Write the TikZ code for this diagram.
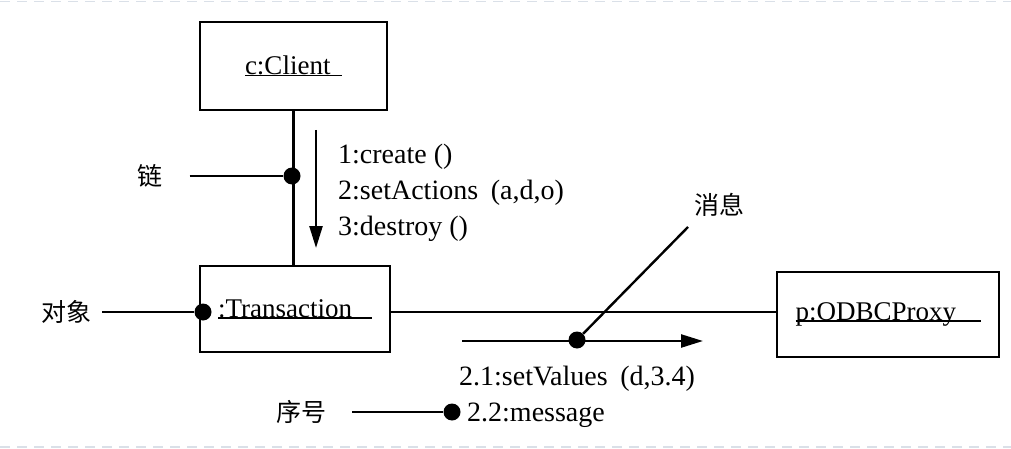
\documentclass[tikz,border=0pt]{standalone}
\usepackage{fontspec}
\setmainfont{Liberation Serif}
\newfontfamily\cjk{Noto Sans CJK SC}
\usetikzlibrary{arrows.meta}
\definecolor{dashc}{RGB}{218,224,232}
\newcommand\myul[2]{\makebox[#2][l]{#1}\llap{\rule[-1.5pt]{#2}{1.6pt}}}
\begin{document}
\begin{tikzpicture}[x=1pt,y=-1pt,
  obj/.style={draw, line width=2.6pt, inner sep=0pt, font=\fontsize{27}{30}\selectfont},
  lnk/.style={line width=2.4pt},
  msg/.style={font=\fontsize{28}{32}\selectfont, inner sep=0pt, anchor=base west},
  cn/.style={font=\cjk\fontsize{25}{28}\selectfont, inner sep=0pt},
  dotc/.style={circle, fill, inner sep=0pt, minimum size=17pt},
  arr/.style={line width=2.4pt, -{Triangle[length=22pt,width=13pt]}},
  frame/.style={draw=dashc, line width=1.6pt, dash pattern=on 10pt off 7pt}
]
\useasboundingbox (0,0) rectangle (1011,449);
\draw[frame] (0,1.5) -- (1011,1.5);
\draw[frame] (0,447) -- (1011,447);

% objects
\node[obj, minimum width=187pt, minimum height=88pt] (client) at (293.5,66)
  {\raisebox{-3pt}{\myul{c:Client}{97pt}}};
\node[obj, minimum width=190pt, minimum height=86pt] (trans) at (295,309)
  {\raisebox{-3pt}{\myul{:Transaction}{154pt}}};
\node[obj, minimum width=222pt, minimum height=85pt] (odbc) at (888,314.5)
  {\raisebox{-1pt}{\myul{p:ODBCProxy}{185pt}}};

% dots
\node[dotc] (d1) at (292,176) {};
\node[dotc] (d2) at (203,312) {};

% links
\draw[lnk] (client.south) -- (client.south |- trans.north);
\draw[lnk] (trans.east |- d2) -- (odbc.west |- d2);

% link label
\node[cn] (lian) at (150,176) {链};
\draw[lnk] ([xshift=27pt]lian.east) -- (d1);

% object label
\node[cn] (duixiang) at (66,312) {对象};
\draw[lnk] ([xshift=11pt]duixiang.east) -- (d2);

% messages 1-3
\coordinate (a1s) at (316,130);
\coordinate (a1e) at (316,248);
\draw[arr] (a1s) -- (a1e);
\node[msg] (m1) at (338,164) {1:create ()};
\node[msg] (m2) at (338,200) {2:setActions\hspace{0.45em}(a,d,o)};
\node[msg] (m3) at (338,235) {3:destroy ()};

% message 2.1
\coordinate (a2s) at (462,341);
\coordinate (a2e) at (703,341);
\draw[arr] (a2s) -- (a2e);
\node[dotc] (d3) at (577,340) {};
\node[cn] (xiaoxi) at (719,205) {消息};
\coordinate (xe) at (688,227);
\draw[lnk] (xe) -- (d3);
\node[msg] (m21) at (459,385) {2.1:setValues\hspace{0.45em}(d,3.4)};

% sequence number
\node[dotc] (d4) at (452,412) {};
\node[msg] (m22) at (467,421) {2.2:message};
\node[cn] (xuhao) at (301,412) {序号};
\draw[lnk] ([xshift=26pt]xuhao.east) -- (d4);
\end{tikzpicture}
\end{document}
